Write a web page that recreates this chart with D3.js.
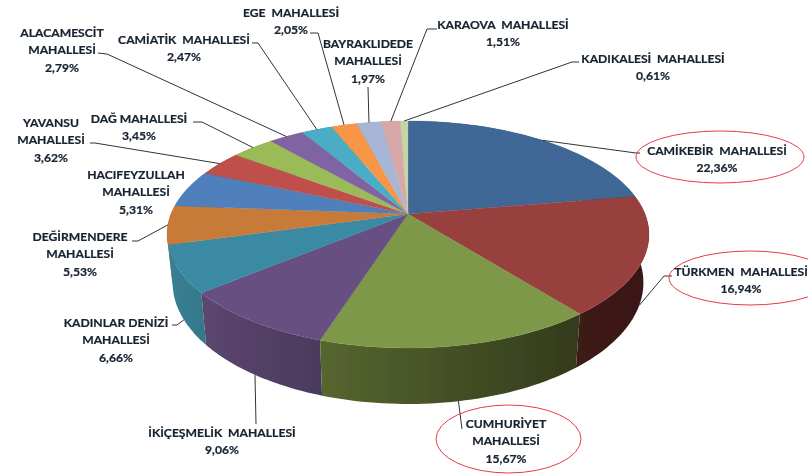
<!DOCTYPE html>
<html><head><meta charset="utf-8">
<script src="https://cdn.jsdelivr.net/npm/d3@7/dist/d3.min.js"></script>
<style>html,body{margin:0;background:#fff}svg{display:block}
text{font-family:Lato,"Open Sans",sans-serif;font-weight:700;font-size:12.15px;fill:#16212f;stroke:#16212f;stroke-width:0.22px;text-anchor:middle;dominant-baseline:central;white-space:pre}</style>
</head><body><svg id="c" width="808" height="474"></svg>
<script>
const names = ["CAMİKEBİR  MAHALLESİ","TÜRKMEN  MAHALLESİ","CUMHURİYET|MAHALLESİ","İKİÇEŞMELİK  MAHALLESİ","KADINLAR DENİZİ|MAHALLESİ","DEĞİRMENDERE|MAHALLESİ","HACIFEYZULLAH|MAHALLESİ","YAVANSU|MAHALLESİ","DAĞ MAHALLESİ","ALACAMESCİT|MAHALLESİ","CAMİATİK  MAHALLESİ","EGE  MAHALLESİ","BAYRAKLIDEDE|MAHALLESİ","KARAOVA  MAHALLESİ","KADIKALESİ  MAHALLESİ"];
const shares = [22.36,16.94,15.67,9.06,6.66,5.53,5.31,3.62,3.45,2.79,2.47,2.05,1.97,1.51,0.61];
const pctLabels = ["22,36%","16,94%","15,67%","9,06%","6,66%","5,53%","5,31%","3,62%","3,45%","2,79%","2,47%","2,05%","1,97%","1,51%","0,61%"];
const topColors = ["#3f6797","#97413e","#7d9848","#685081","#3a8aa3","#c87a38","#4f80bc","#bf4f4c","#9bbb59","#8064a2","#4bacc6","#f79646","#a7b6d6","#d8a8a8","#c4d5a8"];
const sideColorsL = ["#2a4566","#3e1a18","#56662f","#5c4670","#3a7f93","#a5642e","#41699b","#9d413e","#7f9a49","#694f85","#3e8da3","#cb7b39","#8997b0","#b18a8a","#a1af8a"];
const sideColorsR = ["#2a4566","#3a1715","#333a1c","#4a3a5c","#35788c","#a5642e","#41699b","#9d413e","#7f9a49","#694f85","#3e8da3","#cb7b39","#8997b0","#b18a8a","#a1af8a"];
const labelX = [717,741,506,222,116,80,136,51,139,62,184,291,368,503,653];
const labelY = [150,271,423,432,322,236,174,122,118,32,39,12,43,24,58];
const leaderOuter = [[[640,153],[636,153]],[[672,276],[664,276]],[[462,429]],[[256,424]],[[172,325],[177,325]],[[132,241],[138,241]],null,[[90,143],[95,143]],[[193,122],[202,122]],[[98,53],[107,54]],[[252,43],[258,43]],[[310,33],[318,33]],[[368,87]],[[437,29],[427,29]],[[579,62],[572,62]]];
const leaderRim = ["top","bottom","bottom","bottom","bottom","top","top","top","top","top","top","top","top","top","top"];
const ringEllipses = [[720,157,84,26],[750,278,81,27],[508.5,439,72.5,34]];

const cx=408, cy=214, a=237, b=109.8, p=0.1806;
const xScale=d3.scaleLinear().domain([-1,1]).range([cx-a,cx+a]);
const yScale=d3.scaleLinear().domain([-1,1]).range([cy-b,cy+b]);
const bx=d3.scaleLinear().domain([cx-1,cx+1]).range([cx-0.977,cx+0.977]);
const by=d3.scaleLinear().domain([348,349]).range([404,405.07]);
function topPt(t){const x=Math.sin(t),y=-Math.cos(t),w=1-p*y;return [xScale(x/w),yScale(y/w)];}
function botPt(t){const q=topPt(t);return [bx(q[0]),by(q[1])];}

const svg=d3.select("#c");
const defs=svg.append("defs");
const blur=defs.append("filter").attr("id","soft").attr("x","-5%").attr("y","-5%").attr("width","110%").attr("height","110%");
blur.append("feGaussianBlur").attr("stdDeviation",0.35);
const pie=d3.pie().sort(null).value(d=>d);
const arcs=pie(shares);
const line=d3.line();
const steps=(d)=>d3.range(0,41).map(i=>d.startAngle+(d.endAngle-d.startAngle)*i/40);
const midA=d=>(d.startAngle+d.endAngle)/2;
const frontOrder=d3.range(arcs.length).sort((i,j)=>Math.cos(midA(arcs[j]))-Math.cos(midA(arcs[i])));
const chart=svg.append("g").attr("filter","url(#soft)");
arcs.forEach((d,i)=>{
  const xs=steps(d).map(t=>topPt(t)[0]);
  const g=defs.append("linearGradient").attr("id","side"+i).attr("gradientUnits","userSpaceOnUse")
    .attr("x1",d3.min(xs)).attr("x2",d3.max(xs)).attr("y1",0).attr("y2",0);
  g.append("stop").attr("offset",0).attr("stop-color",sideColorsL[i]);
  g.append("stop").attr("offset",1).attr("stop-color",sideColorsR[i]);
});
chart.selectAll("path.side").data(frontOrder).join("path").attr("class","side")
  .attr("d",i=>{const ts=steps(arcs[i]);return line(ts.map(topPt).concat(ts.slice().reverse().map(botPt)))+"Z";})
  .attr("fill",i=>`url(#side${i})`);
chart.selectAll("path.face").data(arcs).join("path").attr("class","face")
  .attr("d",d=>line([[cx,cy]].concat(steps(d).map(topPt)))+"Z")
  .attr("fill",(d,i)=>topColors[i]).attr("stroke",(d,i)=>topColors[i]).attr("stroke-width",0.3);
const g2=svg.append("g").attr("filter","url(#soft)");
arcs.forEach((d,i)=>{
  if(!leaderOuter[i])return;
  const anchor=leaderRim[i]==="top"?topPt(midA(d)):botPt(midA(d));
  g2.append("path").attr("d",line(leaderOuter[i].concat([anchor]))).attr("fill","none").attr("stroke","#333").attr("stroke-width",1);
});
g2.selectAll("ellipse").data(ringEllipses).join("ellipse")
  .attr("cx",d=>d[0]).attr("cy",d=>d[1]).attr("rx",d=>d[2]).attr("ry",d=>d[3])
  .attr("fill","none").attr("stroke","#e83a48").attr("stroke-width",1);
const lh=17.6;
const labels=svg.append("g").attr("filter","url(#soft)");
names.forEach((n,i)=>{
  n.split("|").concat([pctLabels[i]]).forEach((s,k)=>labels.append("text").attr("x",labelX[i]).attr("y",labelY[i]+k*lh).text(s));
});
</script></body></html>
